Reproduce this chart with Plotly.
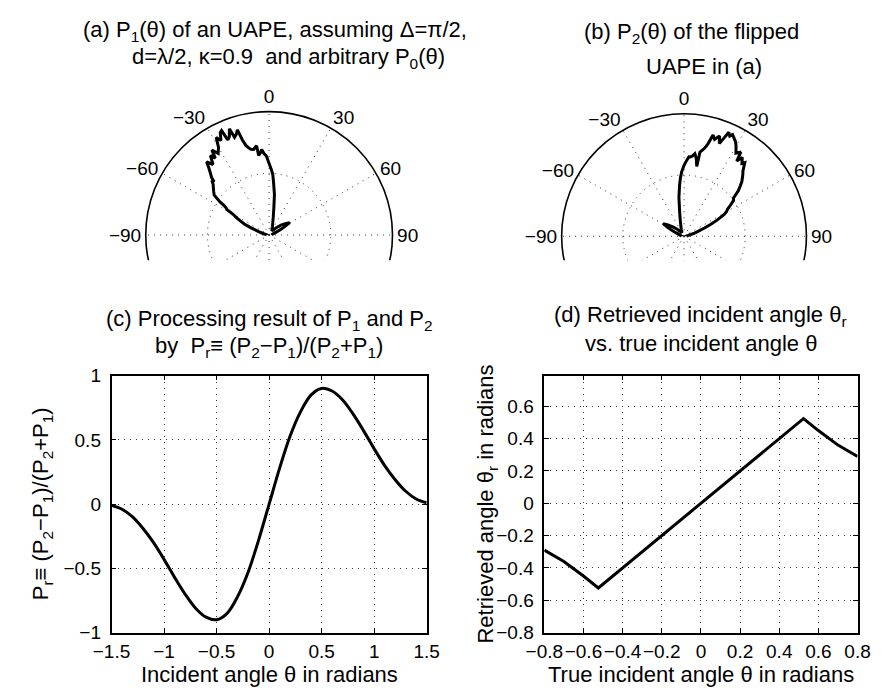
import plotly.graph_objects as go

W, H = 885, 695
FONT = "Liberation Sans, Arial, Helvetica, sans-serif"
TICK_SIZE = 19
TITLE_SIZE = 22

# (a) pattern P1(theta) of the UAPE, theta in degrees
theta_a = [-90, -85, -80, -76, -72, -70, -68, -66, -64, -62, -60, -59, -58, -57, -56,
           -54, -52, -50, -48, -46.5, -46, -45, -44, -42, -40.5, -38.5, -36.5, -35, -34,
           -32, -30, -28.5, -27, -25.5, -24.5, -23.5, -22, -20.5, -19.5, -18, -16.8,
           -15.7, -14.5, -13.2, -12, -10.3, -9, -8, -7.5, -6, -5, -3.5, -2, 0, 2, 3.5,
           5, 7.5, 10, 13, 17, 22, 27, 32, 38, 44, 50, 55, 59, 62, 65, 70, 75, 80, 90]
r_a = [0.02, 0.02, 0.03, 0.05, 0.09, 0.12, 0.17, 0.22, 0.26, 0.30, 0.34, 0.40, 0.41,
       0.43, 0.48, 0.55, 0.57, 0.59, 0.61, 0.64, 0.62, 0.66, 0.68, 0.73, 0.78, 0.73,
       0.80, 0.76, 0.83, 0.78, 0.82, 0.90, 0.86, 0.92, 0.93, 0.84, 0.86, 0.92, 0.84,
       0.86, 0.89, 0.80, 0.75, 0.725, 0.71, 0.705, 0.72, 0.73, 0.65, 0.67, 0.695, 0.66,
       0.64, 0.58, 0.53, 0.49, 0.42, 0.33, 0.22, 0.15, 0.10, 0.07, 0.05, 0.04, 0.05,
       0.08, 0.125, 0.16, 0.195, 0.14, 0.10, 0.05, 0.03, 0.025, 0.02]

# (b) pattern P2(theta) of the flipped UAPE
theta_b = [-90, -85, -80, -75, -70, -65, -62, -59, -55, -50, -44, -38, -32, -27, -22,
           -17, -13, -10, -7.5, -5, -3.5, -2, 0, 2, 3.5, 4.6, 6, 7.5, 9, 10.3, 10.7, 12,
           13.2, 14.5, 16, 17.5, 19.5, 20.8, 22, 23.3, 24.5, 25.5, 27, 28.5, 30, 32, 34,
           35, 36.5, 38.5, 39.5, 42, 44, 46.6, 48, 50, 52.3, 54, 56, 58, 60, 61.7, 64,
           66, 68, 70, 73, 76, 80, 85, 90]
r_b = [0.02, 0.02, 0.025, 0.03, 0.05, 0.10, 0.15, 0.20, 0.16, 0.12, 0.08, 0.05, 0.035,
       0.04, 0.06, 0.09, 0.14, 0.21, 0.32, 0.42, 0.48, 0.53, 0.58, 0.62, 0.65, 0.65,
       0.66, 0.68, 0.64, 0.58, 0.70, 0.72, 0.74, 0.78, 0.86, 0.83, 0.87, 0.81, 0.86,
       0.925, 0.90, 0.92, 0.90, 0.88, 0.85, 0.80, 0.83, 0.75, 0.80, 0.76, 0.78, 0.72,
       0.69, 0.65, 0.62, 0.58, 0.51, 0.50, 0.46, 0.42, 0.40, 0.37, 0.30, 0.24, 0.18,
       0.13, 0.09, 0.05, 0.03, 0.02, 0.02]

# (c) processing result Pr versus incident angle (radians)
theta_c = [-1.5, -1.4, -1.3, -1.2, -1.1, -1.0, -0.9, -0.8, -0.7, -0.6, -0.5, -0.4, -0.3,
           -0.2, -0.1, 0.0, 0.1, 0.2, 0.3, 0.4, 0.5, 0.6, 0.7, 0.8, 0.9, 1.0, 1.1, 1.2,
           1.3, 1.4, 1.5]
pr_c = [-0.01, -0.04, -0.10, -0.19, -0.30, -0.43, -0.57, -0.70, -0.81, -0.88, -0.90,
        -0.85, -0.72, -0.53, -0.28, 0.0, 0.28, 0.53, 0.72, 0.85, 0.90, 0.88, 0.81, 0.70,
        0.57, 0.43, 0.30, 0.19, 0.10, 0.04, 0.01]

# (d) retrieved angle versus true angle (radians)
theta_d = [-0.8, -0.7, -0.6, -0.524, 0.524, 0.6, 0.7, 0.8]
ret_d = [-0.29, -0.36, -0.45, -0.524, 0.524, 0.45, 0.36, 0.29]

ang_vals = [0, 30, 60, 90, 120, 150, 180, 210, 240, 270, 300, 330]
ang_text = ["0", "30", "60", "90", "", "", "", "", "", "\u221290", "\u221260", "\u221230"]


def px(x):
    return x / W


def py(y):
    return 1 - y / H


GRID = "#333333"
GRIDDASH = "1px,5px"

fig = go.Figure()

fig.add_trace(go.Scatterpolar(theta=theta_a, r=r_a, mode="lines",
                              line=dict(color="black", width=3), subplot="polar",
                              showlegend=False))
fig.add_trace(go.Scatterpolar(theta=theta_b, r=r_b, mode="lines",
                              line=dict(color="black", width=3), subplot="polar2",
                              showlegend=False))
fig.add_trace(go.Scatter(x=theta_c, y=pr_c, mode="lines",
                         line=dict(color="black", width=3, shape="spline"),
                         xaxis="x", yaxis="y", showlegend=False))
fig.add_trace(go.Scatter(x=theta_d, y=ret_d, mode="lines",
                         line=dict(color="black", width=3),
                         xaxis="x2", yaxis="y2", showlegend=False))


def polar_layout(cx, cy, rad):
    return dict(
        domain=dict(x=[px(cx - rad), px(cx + rad)], y=[py(cy + rad), py(cy - rad)]),
        bgcolor="white",
        angularaxis=dict(rotation=90, direction="clockwise", tickmode="array",
                         tickvals=ang_vals, ticktext=ang_text, ticks="",
                         showline=True, linecolor="black", linewidth=1.6,
                         showgrid=True, gridcolor=GRID, gridwidth=1, griddash=GRIDDASH,
                         tickfont=dict(family=FONT, size=TICK_SIZE, color="black")),
        radialaxis=dict(range=[0, 1], tickvals=[0.5], showticklabels=False,
                        showline=False, ticks="", showgrid=True, gridcolor=GRID,
                        gridwidth=1, griddash=GRIDDASH),
    )


def cart_axis(dom, rng, dtick, tick0, standoff):
    return dict(domain=dom, range=rng, dtick=dtick, tick0=tick0, ticks="inside",
                ticklen=5, tickcolor="black", showline=True, mirror="ticks",
                linecolor="black", linewidth=1.5, showgrid=True, gridcolor=GRID,
                gridwidth=1, griddash=GRIDDASH, zeroline=False, tickangle=0,
                tickfont=dict(family=FONT, size=TICK_SIZE, color="black"),
                ticklabelstandoff=standoff)


ydom = [py(642), py(377)]

fig.update_layout(
    width=W, height=H, margin=dict(l=0, r=0, t=0, b=0),
    paper_bgcolor="white", plot_bgcolor="white",
    font=dict(family=FONT, size=TICK_SIZE, color="black"),
    polar=polar_layout(259.5, 232, 128),
    polar2=polar_layout(690, 233.3, 127),
    xaxis=dict(cart_axis([px(96), px(423)], [-1.5, 1.5], 0.5, -1.5, 1), anchor="y"),
    yaxis=dict(cart_axis(ydom, [-1, 1], 0.5, -1, 5), anchor="x"),
    xaxis2=dict(cart_axis([px(545), px(870)], [-0.8, 0.8], 0.2, -0.8, 1), anchor="y2"),
    yaxis2=dict(cart_axis(ydom, [-0.8, 0.79], 0.2, -0.8, 5), anchor="x2"),
)

# lower part of the polar frames is cut off
fig.add_shape(type="rect", xref="paper", yref="paper", x0=0, x1=1,
              y0=py(370), y1=py(258), fillcolor="white", line=dict(width=0),
              layer="above")


def label(text, x, y, angle=0, xanchor="center"):
    fig.add_annotation(text=text, x=px(x), y=py(y), xref="paper", yref="paper",
                       showarrow=False, xanchor=xanchor, yanchor="middle",
                       textangle=angle, borderpad=0,
                       font=dict(family=FONT, size=TITLE_SIZE, color="black"))


label("(a) P<sub>1</sub>(θ) of an UAPE, assuming Δ=π/2,", 65, 22, xanchor="left")
label("d=λ/2, κ=0.9  and arbitrary P<sub>0</sub>(θ)", 116, 50, xanchor="left")
label("(b) P<sub>2</sub>(θ) of the flipped", 585, 24, xanchor="left")
label("UAPE in (a)", 650, 58, xanchor="left")

label("(c) Processing result of P<sub>1</sub> and P<sub>2</sub>", 259.5, 320)
label("by  P<sub>r</sub>≡ (P<sub>2</sub>−P<sub>1</sub>)/(P<sub>2</sub>+P<sub>1</sub>)", 259.5, 348)
label("(d) Retrieved incident angle θ<sub>r</sub>", 707.5, 316)
label("vs. true incident angle θ", 707.5, 344)

label("Incident angle θ in radians", 259.5, 685)
label("True incident angle θ in radians", 707.5, 685)
label("P<sub>r</sub>≡ (P<sub>2</sub>−P<sub>1</sub>)/(P<sub>2</sub>+P<sub>1</sub>)", 24, 509.5, angle=-90)
label("Retrieved angle θ<sub>r</sub> in radians", 486, 509.5, angle=-90)

fig.write_html("out.html")
